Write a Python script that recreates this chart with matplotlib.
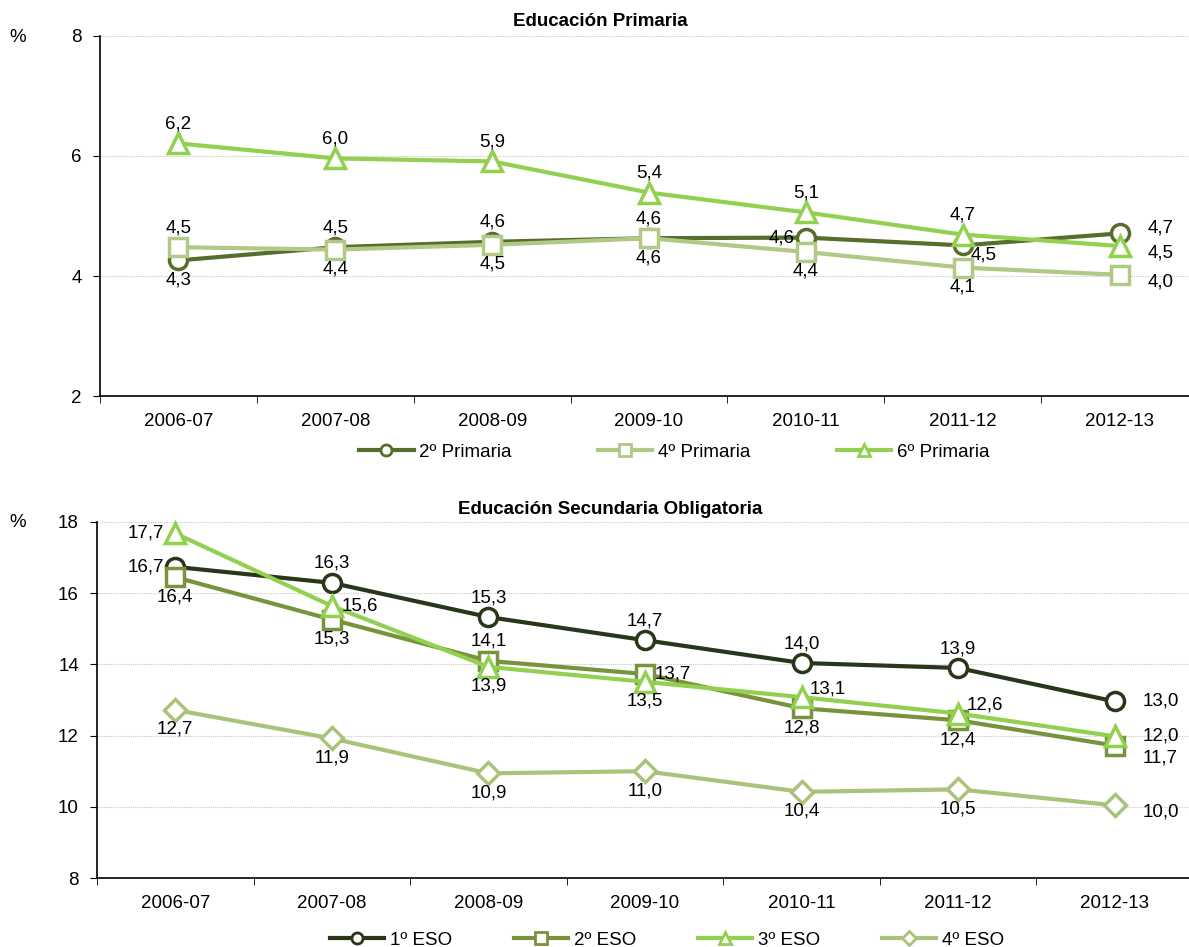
#!/usr/bin/env python3
"""Repetición por curso: Educación Primaria y ESO."""

import matplotlib
matplotlib.use("Agg")
import matplotlib.pyplot as plt
from matplotlib.lines import Line2D

plt.rcParams["font.family"] = ["Liberation Sans", "DejaVu Sans"]

cursos = ["2006-07", "2007-08", "2008-09", "2009-10", "2010-11", "2011-12", "2012-13"]

# --- Educación Primaria ---
prim_2 = [4.26, 4.48, 4.57, 4.63, 4.64, 4.51, 4.71]
prim_4 = [4.48, 4.44, 4.52, 4.63, 4.40, 4.14, 4.02]
prim_6 = [6.21, 5.96, 5.91, 5.39, 5.06, 4.69, 4.50]

# --- ESO ---
eso_1 = [16.74, 16.29, 15.33, 14.68, 14.04, 13.90, 12.96]
eso_2 = [16.45, 15.26, 14.10, 13.73, 12.77, 12.43, 11.72]
eso_3 = [17.68, 15.64, 13.93, 13.51, 13.08, 12.62, 11.98]
eso_4 = [12.72, 11.92, 10.94, 11.00, 10.42, 10.49, 10.04]

# label placement codes -> (dx, dy) in points, horizontal alignment
OFFSETS = {
    "a": ((0, 14), "center"),
    "b": ((0, -14), "center"),
    "l": ((-8, 0), "right"),
    "r": ((7, 0), "left"),
    "ar": ((6, 6), "left"),
    "br": ((6, -7), "left"),
    "R": ((20, 0), "left"),
    "Ru": ((20, 4), "left"),
    "Rd": ((20, -5), "left"),
    "Rdd": ((20, -9), "left"),
}

C_PRIM2 = "#566d2c"
C_PRIM4 = "#b0c986"
C_GREEN = "#92d050"
C_ESO1 = "#28361a"
C_ESO2 = "#77933c"
C_ESO4 = "#a9c47a"

FS = 13.5


def label_points(ax, x, y, codes):
    for xi, yi, code in zip(x, y, codes):
        (dx, dy), ha = OFFSETS[code]
        ax.annotate(f"{yi:.1f}".replace(".", ","), (xi, yi), xytext=(dx, dy),
                    textcoords="offset points", ha=ha, va="center", fontsize=FS)


def style_axes(ax, ymin, ymax):
    ax.set_xlim(-0.5, len(cursos) - 0.5)
    ax.set_ylim(ymin, ymax)
    ax.set_yticks(range(ymin, ymax + 1, 2))
    ax.set_xticks(range(len(cursos)))
    ax.set_xticklabels(cursos)
    ax.set_xticks([i - 0.5 for i in range(len(cursos) + 1)], minor=True)
    ax.tick_params(axis="x", which="major", length=0, pad=12, labelsize=FS)
    ax.tick_params(axis="x", which="minor", length=5, direction="out")
    ax.tick_params(axis="y", length=5, direction="out", pad=8, labelsize=FS)
    ax.grid(axis="y", color="#c8c8c8", linestyle=(0, (1, 1)), linewidth=0.8)
    ax.set_axisbelow(True)
    for s in ("top", "right"):
        ax.spines[s].set_visible(False)
    ax.spines["left"].set_linewidth(1.2)
    ax.spines["bottom"].set_linewidth(1.2)


def series(ax, y, color, marker, ms=13):
    x = range(len(y))
    ax.plot(x, y, color=color, lw=3, marker=marker, ms=ms, mfc="white",
            mec=color, mew=2.5, clip_on=False)


fig = plt.figure(figsize=(11.89, 9.47), dpi=100)

# ---------- Primaria ----------
ax1 = fig.add_axes([100 / 1189, 1 - 396 / 947, 1098 / 1189, 360 / 947])
style_axes(ax1, 2, 8)
x = range(len(cursos))
series(ax1, prim_2, C_PRIM2, "o")
series(ax1, prim_4, C_PRIM4, "s")
series(ax1, prim_6, C_GREEN, "^", ms=14)
label_points(ax1, x, prim_2, ["b", "a", "a", "a", "l", "br", "Ru"])
label_points(ax1, x, prim_4, ["a", "b", "b", "b", "b", "b", "Rd"])
label_points(ax1, x, prim_6, ["a", "a", "a", "a", "a", "a", "Rd"])

fig.text(600 / 1189, 1 - 22 / 947, "Educación Primaria", ha="center", va="center",
         fontsize=FS, fontweight="bold")
fig.text(18 / 1189, 1 - 38 / 947, "%", ha="center", va="center", fontsize=FS)

h1 = [Line2D([], [], color=c, lw=3, marker=m, ms=8, mfc="white", mec=c, mew=2)
      for c, m in [(C_PRIM2, "o"), (C_PRIM4, "s"), (C_GREEN, "^")]]
fig.legend(h1, ["2º Primaria", "4º Primaria", "6º Primaria"], loc="center",
           bbox_to_anchor=(0.567, 1 - 452 / 947), ncol=3, frameon=False, fontsize=FS,
           handlelength=2.9, handletextpad=0.3, columnspacing=4.6, borderpad=0)

# ---------- ESO ----------
ax2 = fig.add_axes([97 / 1189, 1 - 878 / 947, 1096 / 1189, 356 / 947])
style_axes(ax2, 8, 18)
series(ax2, eso_1, C_ESO1, "o")
series(ax2, eso_2, C_ESO2, "s")
series(ax2, eso_3, C_GREEN, "^", ms=14)
series(ax2, eso_4, C_ESO4, "D", ms=11)
label_points(ax2, x, eso_1, ["l", "a", "a", "a", "a", "a", "R"])
label_points(ax2, x, eso_2, ["b", "b", "a", "r", "b", "b", "Rdd"])
label_points(ax2, x, eso_3, ["l", "r", "b", "b", "ar", "ar", "R"])
label_points(ax2, x, eso_4, ["b", "b", "b", "b", "b", "b", "Rd"])

fig.text(610 / 1189, 1 - 509 / 947, "Educación Secundaria Obligatoria", ha="center",
         va="center", fontsize=FS, fontweight="bold")
fig.text(18 / 1189, 1 - 522 / 947, "%", ha="center", va="center", fontsize=FS)

h2 = [Line2D([], [], color=c, lw=3, marker=m, ms=ms, mfc="white", mec=c, mew=2)
      for c, m, ms in [(C_ESO1, "o", 8), (C_ESO2, "s", 8), (C_GREEN, "^", 8), (C_ESO4, "D", 7)]]
fig.legend(h2, ["1º ESO", "2º ESO", "3º ESO", "4º ESO"], loc="center",
           bbox_to_anchor=(0.561, 1 - 940 / 947), ncol=4, frameon=False, fontsize=FS,
           handlelength=2.9, handletextpad=0.3, columnspacing=3.3, borderpad=0)

fig.savefig("out.png", dpi=100)
